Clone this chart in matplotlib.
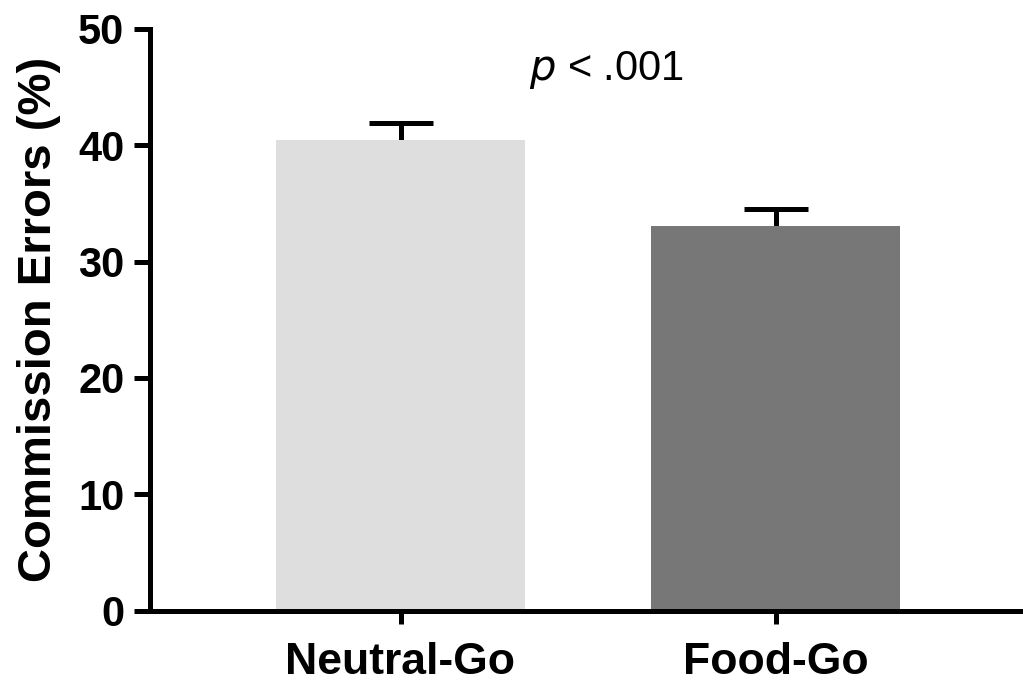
import matplotlib
matplotlib.use("Agg")
import matplotlib.pyplot as plt

categories = ["Neutral-Go", "Food-Go"]
means = [40.45, 33.1]
errors = [1.5, 1.45]
bar_colors = ["#dedede", "#777777"]
yticks = [0, 10, 20, 30, 40, 50]

plt.rcParams['font.family'] = ['Liberation Sans', 'DejaVu Sans']

fig = plt.figure(figsize=(10.23, 6.83), dpi=100)
ax = fig.add_axes([150/1023, 1 - 610.5/683, (1023-150)/1023, (610.5-29)/683])

x = list(range(len(categories)))
ax.bar(x, means, width=0.664, color=bar_colors, zorder=2)
eb = ax.errorbar(x, means, yerr=[[0]*len(errors), errors], fmt='none', ecolor='black',
                 elinewidth=3.6, capsize=22.7, capthick=3.6, zorder=1)
caps = eb[1]
if len(caps) == 2:
    caps[0].set_visible(False)

ax.set_xlim(-0.668, 1.66)
ax.set_ylim(0, 50)
ax.set_yticks(yticks)
ax.set_xticks(x)
ax.set_xticklabels(categories, fontsize=32, fontweight='bold')
ax.set_yticklabels([str(t) for t in yticks], fontsize=30, fontweight='bold')
ax.set_ylabel("Commission Errors (%)", fontsize=34, fontweight='bold', labelpad=12)

for s in ['top', 'right']:
    ax.spines[s].set_visible(False)
for s in ['left', 'bottom']:
    ax.spines[s].set_linewidth(3.6)
ax.tick_params(axis='y', length=11.5, width=3.6, pad=7)
ax.tick_params(axis='x', length=9.4, width=3.6, pad=13)

ax.text(0.549, 45.6, r"$\it{p}$ < .001", fontsize=30, ha='center', va='baseline')

fig.savefig("out.png", dpi=100)
